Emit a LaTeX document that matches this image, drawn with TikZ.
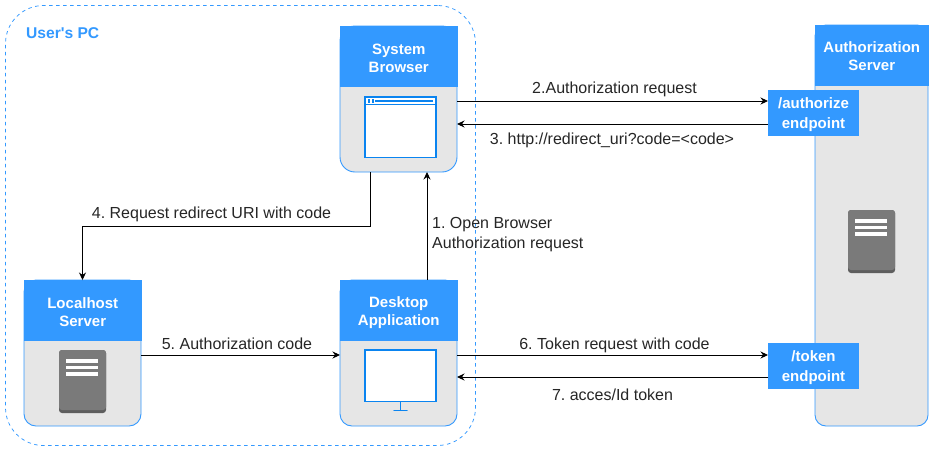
\documentclass[tikz,border=0pt]{standalone}
\usepackage{fontspec}
\setmainfont{Liberation Sans}
\newfontfamily\plainsans{Liberation Sans}
\usetikzlibrary{arrows.meta}
\definecolor{hdr}{HTML}{3399FF}
\definecolor{icn}{HTML}{0A84F0}
\definecolor{bodyg}{HTML}{E6E6E6}
\definecolor{srv}{HTML}{7A7A7A}
\definecolor{srvd}{HTML}{5E5E5E}
\frenchspacing
\newcommand{\tstrut}[1]{\rule{0pt}{#1}}
\tikzset{
  x=1pt,y=-1pt,
  cardbody/.style={draw=hdr,fill=bodyg,line width=0.9pt,rectangle,anchor=north west,inner sep=0pt,outer sep=0pt},
  hdrbox/.style={fill=hdr,rectangle,anchor=north west,inner sep=0pt,outer sep=0pt,text=white,
     font=\fontsize{15}{18}\selectfont\bfseries,align=center},
  epbox/.style={hdrbox,font=\fontsize{15}{20}\selectfont\bfseries},
  conn/.style={draw=black,line width=0.9pt,-{Stealth[length=7.5pt,width=7pt]}},
  lbl/.style={font=\fontsize{16}{20}\selectfont\frenchspacing,text=black!85,inner sep=0pt},
}
\newcommand{\servericon}[2]{%
  \fill[srvd,rounded corners=3pt] (#1,#2) rectangle ++(47,63);
  \fill[srv,rounded corners=3pt] (#1,#2) rectangle ++(47,60);
  \fill[white] (#1+7,#2+9) rectangle ++(32,3.6);
  \fill[white] (#1+7,#2+15.7) rectangle ++(32,3.6);
  \fill[white] (#1+7,#2+22.4) rectangle ++(32,3.6);
}
\begin{document}
\begin{tikzpicture}
\useasboundingbox (0,0) rectangle (933,451);
\fill[white] (0,0) rectangle (933,451);
% user's PC
\node[draw=hdr,dash pattern=on 3.5pt off 3.5pt,line width=0.75pt,rounded corners=38pt,rectangle,anchor=north west,
      minimum width=470pt,minimum height=440pt,inner sep=0pt,outer sep=0pt] (pc) at (5.5,5.5) {};
\node[anchor=west,text=hdr,font=\plainsans\fontsize{15.6}{18}\selectfont\bfseries,inner sep=0pt] (pclabel) at (26,33.5) {User's PC};
% authorization server
\node[cardbody,rounded corners=11pt,minimum width=113pt,minimum height=401pt] (as) at (815,25) {};
\node[hdrbox,minimum width=113.5pt,minimum height=61pt] (ash) at (815,25) {\tstrut{13pt}Authorization\\Server};
\servericon{848}{210}
\node[epbox,minimum width=91pt,minimum height=46pt] (authz) at (768,90) {\tstrut{14pt}/authorize\\endpoint};
\node[epbox,minimum width=91pt,minimum height=46pt] (tok) at (768,343) {\tstrut{14pt}/token\\endpoint};
% system browser
\node[cardbody,rounded corners=15pt,minimum width=117pt,minimum height=146pt] (sb) at (340,26) {};
\node[hdrbox,minimum width=117.5pt,minimum height=61pt] (sbh) at (340,26) {\tstrut{15pt}System\\Browser};
\draw[icn,fill=white,line width=1.7pt] (365,97) rectangle (436,157.5);
\draw[icn,line width=1.4pt] (365,104.5) -- (436,104.5);
\fill[icn] (368,99.3) rectangle (370,102.7);
\fill[icn] (371.5,99.3) rectangle (373.5,102.7);
\fill[icn] (375,100) rectangle (433,102);
% localhost server
\node[cardbody,rounded corners=12pt,minimum width=117pt,minimum height=146pt] (ls) at (24,280) {};
\node[hdrbox,minimum width=117.5pt,minimum height=61pt] (lsh) at (24,280) {\tstrut{14pt}Localhost\\Server};
\servericon{59}{350}
% desktop application
\node[cardbody,rounded corners=12pt,minimum width=117pt,minimum height=146pt] (da) at (340,280) {};
\node[hdrbox,minimum width=117.5pt,minimum height=61pt] (dah) at (340,280) {\tstrut{15pt}Desktop\\Application};
\draw[icn,fill=white,line width=1.7pt] (365,350) rectangle (436,401.5);
\draw[icn,line width=1.5pt] (400.5,402) -- (400.5,410);
\draw[icn,line width=1.5pt,line cap=round] (394,410.5) -- (407,410.5);
% connectors
\draw[conn] ([yshift=-75pt]sb.north east) -- ([yshift=-11pt]authz.north west);
\draw[conn] ([yshift=-34pt]authz.north west) -- ([yshift=-98pt]sb.north east);
\draw[conn] ([xshift=30pt]sb.south west) -- ++(0,54) -| (ls.north);
\draw[conn] ([xshift=87pt]da.north west) -- ([xshift=87pt]sb.south west);
\draw[conn] ([yshift=-75pt]ls.north east) -- ([yshift=-75pt]da.north west);
\draw[conn] ([yshift=-75pt]da.north east) -- ([yshift=-12pt]tok.north west);
\draw[conn] ([yshift=-34pt]tok.north west) -- ([yshift=-97pt]da.north east);
% labels
\node[lbl] (l2) at (614.5,89.5) {2.Authorization request};
\node[lbl] (l3) at (612,140.5) {3. http://redirect\_uri?code=<code>};
\node[lbl] (l4) at (211.5,214.5) {4. Request redirect URI with code};
\node[lbl,anchor=west] (l1a) at (432,224.5) {1. Open Browser};
\node[lbl,anchor=west] (l1b) at (432,244.5) {Authorization request};
\node[lbl] (l5) at (237,344) {5. Authorization code};
\node[lbl] (l6) at (614.5,345) {6. Token request with code};
\node[lbl] (l7) at (612.5,394.5) {7. acces/Id token};
\end{tikzpicture}
\end{document}
